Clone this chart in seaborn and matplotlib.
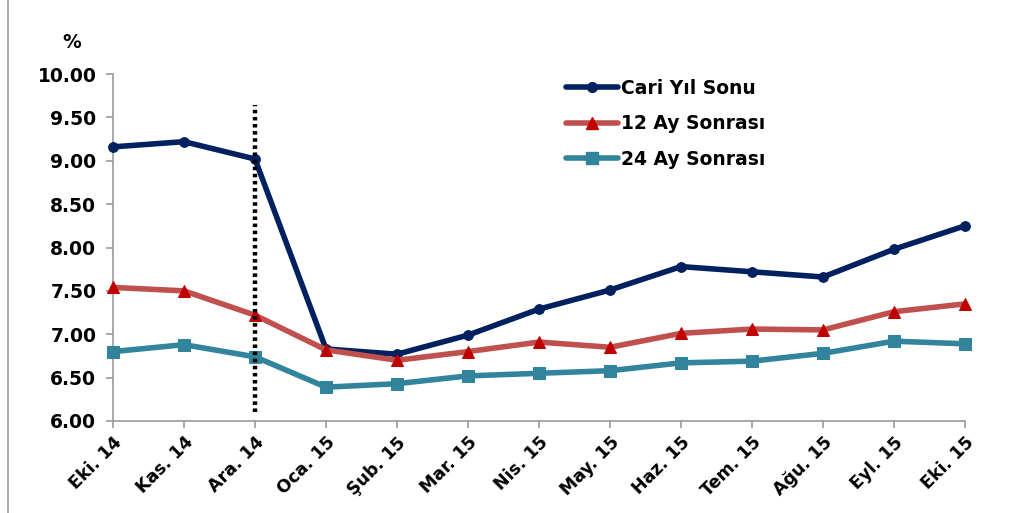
import matplotlib
matplotlib.use("Agg")
import matplotlib.pyplot as plt
import seaborn as sns
import pandas as pd
from matplotlib.lines import Line2D

sns.set_theme(style="white")
plt.rcParams['font.family'] = ['DejaVu Sans']
plt.rcParams['text.color'] = 'black'

months = ["Eki. 14", "Kas. 14", "Ara. 14", "Oca. 15", "Şub. 15", "Mar. 15", "Nis. 15",
          "May. 15", "Haz. 15", "Tem. 15", "Ağu. 15", "Eyl. 15", "Eki. 15"]
cari = [9.16, 9.22, 9.02, 6.83, 6.77, 6.99, 7.29, 7.51, 7.78, 7.72, 7.66, 7.98, 8.25]
ay12 = [7.54, 7.50, 7.22, 6.82, 6.70, 6.80, 6.91, 6.85, 7.01, 7.06, 7.05, 7.26, 7.35]
ay24 = [6.80, 6.88, 6.74, 6.39, 6.43, 6.52, 6.55, 6.58, 6.67, 6.69, 6.78, 6.92, 6.89]
yticks = [6.00, 6.50, 7.00, 7.50, 8.00, 8.50, 9.00, 9.50, 10.00]
series_names = ["Cari Yıl Sonu", "12 Ay Sonrası", "24 Ay Sonrası"]

fig = plt.figure(figsize=(10.16, 5.13), dpi=100)
ax = fig.add_axes([113/1016, 1-421/513, (965-113)/1016, (421-74)/513])

x = list(range(len(months)))
styles = [
    dict(color="#002060", marker="o", markersize=7, mfc="#002060", mec="#002060", lw=4.0),
    dict(color="#C0504D", marker="^", markersize=8, mfc="#C00000", mec="#C00000", lw=4.0),
    dict(color="#31849B", marker="s", markersize=9, mfc="#31849B", mec="#31849B", lw=4.0),
]
handles = []
for name, vals, st in zip(series_names, [cari, ay12, ay24], styles):
    df = pd.DataFrame({"x": x, "y": vals})
    sns.lineplot(data=df, x="x", y="y", ax=ax, color=st["color"], lw=st["lw"],
                 marker=st["marker"], markersize=st["markersize"],
                 markerfacecolor=st["mfc"], markeredgecolor=st["mec"], clip_on=False, zorder=3)
    handles.append(Line2D([0], [0], color=st["color"], lw=st["lw"], marker=st["marker"],
                          markersize=st["markersize"], mfc=st["mfc"], mec=st["mec"]))

# vertical dotted marker at Ara. 14
ax.plot([2, 2], [6.1, 9.64], color="black", lw=3.2, linestyle=(0, (0.8, 0.8)), zorder=4)

ax.set_xlim(0, 12)
ax.set_ylim(6, 10)
ax.set_xticks(x)
ax.set_xticklabels(months, rotation=45, ha="right", rotation_mode="anchor",
                   fontsize=12.5, fontweight="bold", color="black")
ax.set_yticks(yticks)
ax.set_yticklabels([f"{v:.2f}" for v in yticks], fontsize=13.5, fontweight="bold", color="black")
ax.set_xlabel("")
ax.set_ylabel("")
for s in ["top", "right"]:
    ax.spines[s].set_visible(False)
for s in ["left", "bottom"]:
    ax.spines[s].set_color("#999999")
    ax.spines[s].set_linewidth(1.2)
ax.tick_params(axis="both", direction="out", length=5, width=1.2, color="#999999",
               bottom=True, left=True)
ax.tick_params(axis="y", pad=7)
ax.tick_params(axis="x", pad=4)

fig.text(72/1016, 1-42/513, "%", fontsize=13.5, fontweight="bold", ha="center", va="center",
         color="black")

leg = ax.legend(handles, series_names, loc="upper left", bbox_to_anchor=(436/852, 1.035),
                frameon=False, prop={"weight": "bold", "size": 13.5},
                handlelength=2.8, labelspacing=0.88, handletextpad=0.15)
for t in leg.get_texts():
    t.set_color("black")

fig.add_artist(Line2D([8/1016, 8/1016], [0, 1], color="#999999", lw=1.2))

fig.savefig("out.png", dpi=100)
